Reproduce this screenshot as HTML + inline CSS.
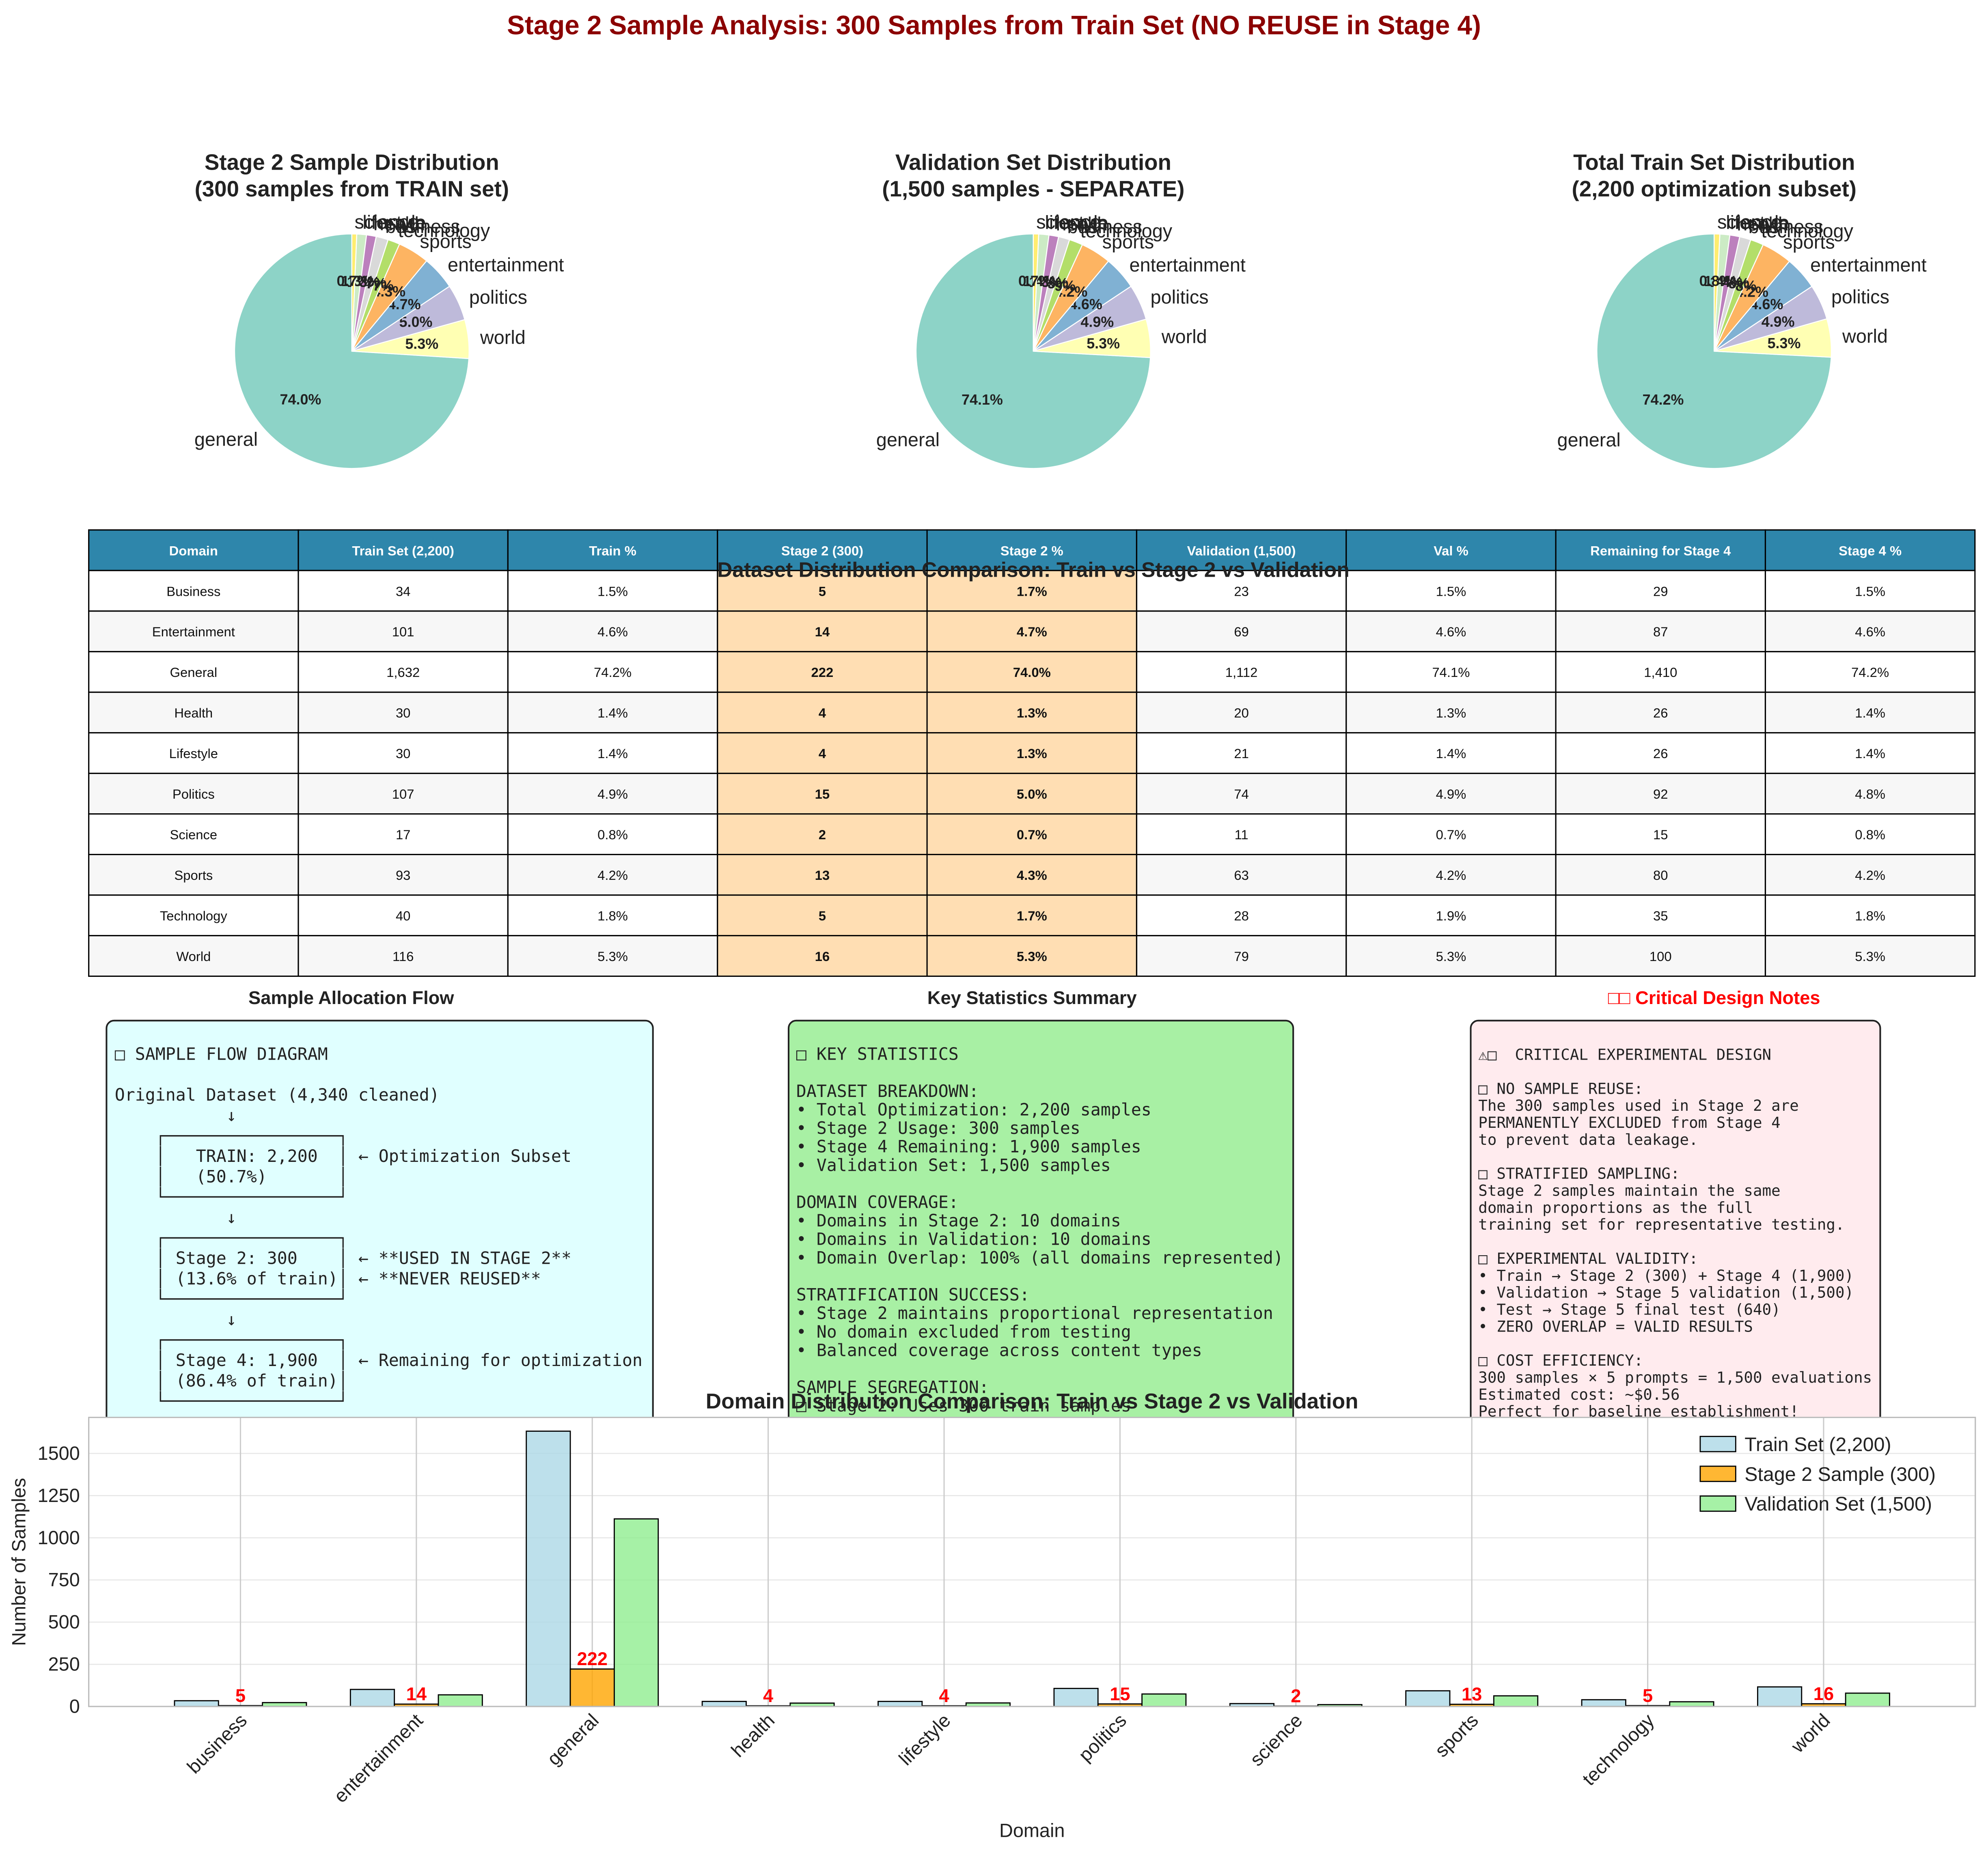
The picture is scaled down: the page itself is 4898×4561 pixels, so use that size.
<!DOCTYPE html>
<html><head><meta charset="utf-8"><style>
html,body{margin:0;padding:0;background:#fff;}
svg{display:block;}
</style></head>
<body>
<svg id="fig" xmlns="http://www.w3.org/2000/svg" width="4898" height="4561" viewBox="0 0 1568 1460" preserveAspectRatio="none" font-family="'Liberation Sans', 'DejaVu Sans', sans-serif">
<rect x="0" y="0" width="1568" height="1460" fill="#fff"/>
<text x="784" y="27" text-anchor="middle" font-size="21" font-weight="bold" fill="#8b0000">Stage 2 Sample Analysis: 300 Samples from Train Set (NO REUSE in Stage 4)</text>
<g id="pies"></g>
<g id="table"></g>
<g id="boxes"></g>
<g id="bars"></g>
</svg>
<script>
const NS='http://www.w3.org/2000/svg';
// ---- data ----
const domains=['Business','Entertainment','General','Health','Lifestyle','Politics','Science','Sports','Technology','World'];
const barCategories=['business','entertainment','general','health','lifestyle','politics','science','sports','technology','world'];
const trainCounts=[34,101,1632,30,30,107,17,93,40,116];
const stage2Counts=[5,14,222,4,4,15,2,13,5,16];
const valCounts=[23,69,1112,20,21,74,11,63,28,79];
const remainingCounts=[29,87,1410,26,26,92,15,80,35,100];
const trainPctLabels=['1.5%','4.6%','74.2%','1.4%','1.4%','4.9%','0.8%','4.2%','1.8%','5.3%'];
const stage2PctLabels=['1.7%','4.7%','74.0%','1.3%','1.3%','5.0%','0.7%','4.3%','1.7%','5.3%'];
const valPctLabels=['1.5%','4.6%','74.1%','1.3%','1.4%','4.9%','0.7%','4.2%','1.9%','5.3%'];
const stage4PctLabels=['1.5%','4.6%','74.2%','1.4%','1.4%','4.8%','0.8%','4.2%','1.8%','5.3%'];
const countLabelsTrain=['34','101','1,632','30','30','107','17','93','40','116'];
const countLabelsVal=['23','69','1,112','20','21','74','11','63','28','79'];
const countLabelsRem=['29','87','1,410','26','26','92','15','80','35','100'];
const pieLabels=['general','world','politics','entertainment','sports','technology','business','health','lifestyle','science'];
const pieStage2=[222,16,15,14,13,5,5,4,4,2];
const pieVal=[1112,79,74,69,63,28,23,20,21,11];
const pieTrain=[1632,116,107,101,93,40,34,30,30,17];
const yTicks=[0,250,500,750,1000,1250,1500];
const pieColors=['#8dd3c7','#ffffb3','#bebada','#80b1d3','#fdb462','#b3de69','#d9d9d9','#bc80bd','#ccebc5','#ffed6f'];

function mk(tag,attrs,parent,text){
  const e=document.createElementNS(NS,tag);
  for(const k in attrs) e.setAttribute(k,attrs[k]);
  if(text!==undefined) e.textContent=text;
  parent.appendChild(e);
  return e;
}

// ---- pies ----
const pies=document.getElementById('pies');
const pieDefs=[
  {cx:277.5,title:['Stage 2 Sample Distribution','(300 samples from TRAIN set)'],data:pieStage2,name:'stage2'},
  {cx:815,title:['Validation Set Distribution','(1,500 samples - SEPARATE)'],data:pieVal,name:'validation'},
  {cx:1352,title:['Total Train Set Distribution','(2,200 optimization subset)'],data:pieTrain,name:'train'}
];
pieDefs.forEach(p=>{
  const g=mk('g',{},pies);
  
  
  const t1=mk('text',{x:p.cx,y:134,'text-anchor':'middle','font-size':17.5,'font-weight':'bold',fill:'#222'},g,p.title[0]);
  
  
  const t2=mk('text',{x:p.cx,y:155,'text-anchor':'middle','font-size':17.5,'font-weight':'bold',fill:'#222'},g,p.title[1]);
  
  
  const cy=277, r=92.5;
  const total=p.data.reduce((a,b)=>a+b,0);
  let ang=90;
  p.data.forEach((v,i)=>{
    const sweep=v/total*360;
    const a0=ang*Math.PI/180, a1=(ang+sweep)*Math.PI/180;
    const x0=p.cx+r*Math.cos(a0), y0=cy-r*Math.sin(a0);
    const x1=p.cx+r*Math.cos(a1), y1=cy-r*Math.sin(a1);
    const large=sweep>180?1:0;
    const path=mk('path',{d:`M${p.cx},${cy} L${x0},${y0} A${r},${r} 0 ${large} 0 ${x1},${y1} Z`,fill:pieColors[i],stroke:'#fff','stroke-width':0.8},g);
    
    
    const mid=(ang+sweep/2)*Math.PI/180;
    const lx=p.cx+1.1*r*Math.cos(mid), ly=cy-1.1*r*Math.sin(mid);
    const lab=mk('text',{x:lx,y:ly+5,'text-anchor':Math.cos(mid)>=0?'start':'end','font-size':15,fill:'#222'},g,pieLabels[i]);
    
    
    const px=p.cx+0.6*r*Math.cos(mid), py=cy-0.6*r*Math.sin(mid);
    const pct=mk('text',{x:px,y:py+4,'text-anchor':'middle','font-size':11.5,'font-weight':'bold',fill:'#222'},g,(v/total*100).toFixed(1)+'%');
    
    
    ang+=sweep;
  });
});

// ---- table ----
const tbl=document.getElementById('table');
const headers=['Domain','Train Set (2,200)','Train %','Stage 2 (300)','Stage 2 %','Validation (1,500)','Val %','Remaining for Stage 4','Stage 4 %'];
const tx0=70, colW=165.3, ty0=418, rowH=32;
headers.forEach((h,c)=>{
  const r=mk('rect',{x:tx0+c*colW,y:ty0,width:colW,height:rowH,fill:'#2e86ab',stroke:'#000','stroke-width':1},tbl);
  
  
  const t=mk('text',{x:tx0+c*colW+colW/2,y:ty0+20,'text-anchor':'middle','font-size':10.5,'font-weight':'bold',fill:'#fff'},tbl,h);
  
  
});
domains.forEach((d,i)=>{
  const vals=[d,countLabelsTrain[i],trainPctLabels[i],String(stage2Counts[i]),stage2PctLabels[i],countLabelsVal[i],valPctLabels[i],countLabelsRem[i],stage4PctLabels[i]];
  const y=ty0+rowH*(i+1);
  vals.forEach((v,c)=>{
    const hl=(c===3||c===4);
    const fill=hl?'#ffdeb3':(i%2===1?'#f7f7f7':'#ffffff');
    const r=mk('rect',{x:tx0+c*colW,y:y,width:colW,height:rowH,fill:fill,stroke:'#000','stroke-width':1},tbl);
    
    
    const t=mk('text',{x:tx0+c*colW+colW/2,y:y+20,'text-anchor':'middle','font-size':10.5,'font-weight':hl?'bold':'normal',fill:'#111'},tbl,v);
    
    
  });
});
const tt=mk('text',{x:815,y:455,'text-anchor':'middle','font-size':16.5,'font-weight':'bold',fill:'#222'},tbl,'Dataset Distribution Comparison: Train vs Stage 2 vs Validation');



// ---- text boxes ----
const boxes=document.getElementById('boxes');
function textBox(name,title,titleColor,tx,bx,bw,fill,fs,lh,lines,textX){
  const g=mk('g',{},boxes);
  
  
  const t=mk('text',{x:tx,y:792,'text-anchor':'middle','font-size':14.5,'font-weight':'bold',fill:titleColor},g,title);
  
  
  const r=mk('rect',{x:bx,y:805,width:bw,height:340,rx:6,fill:fill,stroke:'#222','stroke-width':1.3},g);
  
  
  lines.forEach((l,i)=>{
    const e=mk('text',{x:textX,y:836+i*lh,'font-size':fs,'font-family':"'DejaVu Sans Mono', 'Liberation Mono', monospace",fill:'#222','xml:space':'preserve'},g,l);
    
    
    e.style.whiteSpace='pre';
  });
}
textBox('allocation-flow','Sample Allocation Flow','#222',277,84,431,'#e0ffff',13.3,16.1,[
'□ SAMPLE FLOW DIAGRAM',
'',
'Original Dataset (4,340 cleaned)',
'           ↓',
'    ┌─────────────────┐',
'    │   TRAIN: 2,200  │ ← Optimization Subset',
'    │   (50.7%)       │',
'    └─────────────────┘',
'           ↓',
'    ┌─────────────────┐',
'    │ Stage 2: 300    │ ← **USED IN STAGE 2**',
'    │ (13.6% of train)│ ← **NEVER REUSED**',
'    └─────────────────┘',
'           ↓',
'    ┌─────────────────┐',
'    │ Stage 4: 1,900  │ ← Remaining for optimization',
'    │ (86.4% of train)│',
'    └─────────────────┘'
],90.5);
textBox('key-statistics','Key Statistics Summary','#222',814,622,398,'#a8f0a4',13.3,14.6,[
'□ KEY STATISTICS',
'',
'DATASET BREAKDOWN:',
'• Total Optimization: 2,200 samples',
'• Stage 2 Usage: 300 samples',
'• Stage 4 Remaining: 1,900 samples',
'• Validation Set: 1,500 samples',
'',
'DOMAIN COVERAGE:',
'• Domains in Stage 2: 10 domains',
'• Domains in Validation: 10 domains',
'• Domain Overlap: 100% (all domains represented)',
'',
'STRATIFICATION SUCCESS:',
'• Stage 2 maintains proportional representation',
'• No domain excluded from testing',
'• Balanced coverage across content types',
'',
'SAMPLE SEGREGATION:',
'□ Stage 2: Uses 300 train samples'
],628);
textBox('design-notes','□□ Critical Design Notes','#ff0000',1352,1160,323,'#ffebee',12,13.4,[
'⚠□  CRITICAL EXPERIMENTAL DESIGN',
'',
'□ NO SAMPLE REUSE:',
'The 300 samples used in Stage 2 are',
'PERMANENTLY EXCLUDED from Stage 4',
'to prevent data leakage.',
'',
'□ STRATIFIED SAMPLING:',
'Stage 2 samples maintain the same',
'domain proportions as the full',
'training set for representative testing.',
'',
'□ EXPERIMENTAL VALIDITY:',
'• Train → Stage 2 (300) + Stage 4 (1,900)',
'• Validation → Stage 5 validation (1,500)',
'• Test → Stage 5 final test (640)',
'• ZERO OVERLAP = VALID RESULTS',
'',
'□ COST EFFICIENCY:',
'300 samples × 5 prompts = 1,500 evaluations',
'Estimated cost: ~$0.56',
'Perfect for baseline establishment!'
],1166);

// ---- bar chart ----
const bars=document.getElementById('bars');
const ax={x0:70,x1:1558,y0:1118,y1:1346};
const xMin=-0.8625, xMax=9.8625, yMax=1713.6;
const X=v=>ax.x0+(v-xMin)/(xMax-xMin)*(ax.x1-ax.x0);
const Y=v=>ax.y1-v/yMax*(ax.y1-ax.y0);
const bg=mk('rect',{x:ax.x0,y:ax.y0,width:ax.x1-ax.x0,height:ax.y1-ax.y0,fill:'#fff'},bars);


yTicks.forEach(v=>{
  const l=mk('line',{x1:ax.x0,x2:ax.x1,y1:Y(v),y2:Y(v),stroke:'#e6e6e6','stroke-width':0.8},bars);
  
  
  const t=mk('text',{x:ax.x0-7,y:Y(v)+5,'text-anchor':'end','font-size':15,fill:'#222'},bars,String(v));
  
  
});
barCategories.forEach((c,i)=>{
  const l=mk('line',{x1:X(i),x2:X(i),y1:ax.y0,y2:ax.y1,stroke:'#cccccc','stroke-width':1},bars);
  
  
});
const bw=0.25;
const series=[{vals:trainCounts,color:'#add8e6',off:-bw,name:'train'},{vals:stage2Counts,color:'#ffa500',off:0,name:'stage2'},{vals:valCounts,color:'#90ee90',off:bw,name:'validation'}];
series.forEach(s=>{
  s.vals.forEach((v,i)=>{
    const xl=X(i+s.off-bw/2), xr=X(i+s.off+bw/2);
    const r=mk('rect',{x:xl,y:Y(v),width:xr-xl,height:Y(0)-Y(v),fill:s.color,'fill-opacity':0.8,stroke:'#000','stroke-width':0.9},bars);
    
    
  });
});
stage2Counts.forEach((v,i)=>{
  const t=mk('text',{x:X(i),y:Y(v)-3,'text-anchor':'middle','font-size':14.5,'font-weight':'bold',fill:'#ff0000'},bars,String(v));
  
  
});
const frame=mk('rect',{x:ax.x0,y:ax.y0,width:ax.x1-ax.x0,height:ax.y1-ax.y0,fill:'none',stroke:'#bbbbbb','stroke-width':1},bars);


barCategories.forEach((c,i)=>{
  const x=X(i)+6, y=ax.y1+12;
  const t=mk('text',{x:x,y:y,'text-anchor':'end','font-size':15,fill:'#222',transform:`rotate(-45 ${x} ${y})`},bars,c);
  
  
});
const bt=mk('text',{x:814,y:1111,'text-anchor':'middle','font-size':17,'font-weight':'bold',fill:'#222'},bars,'Domain Distribution Comparison: Train vs Stage 2 vs Validation');


const xl=mk('text',{x:814,y:1449,'text-anchor':'middle','font-size':15,fill:'#222'},bars,'Domain');


const yl=mk('text',{x:20,y:1232,'text-anchor':'middle','font-size':15,fill:'#222',transform:'rotate(-90 20 1232)'},bars,'Number of Samples');


// legend
const lg=mk('g',{},bars);


const legendLabels=['Train Set (2,200)','Stage 2 Sample (300)','Validation Set (1,500)'];
series.forEach((s,i)=>{
  const yy=1133+i*23.5;
  const p=mk('rect',{x:1341,y:yy,width:28,height:12,fill:s.color,'fill-opacity':0.8,stroke:'#000','stroke-width':0.9},lg);
  
  
  const t=mk('text',{x:1376,y:yy+11.5,'font-size':15.5,fill:'#222'},lg,legendLabels[i]);
  
  
});
</script>
</body></html>
